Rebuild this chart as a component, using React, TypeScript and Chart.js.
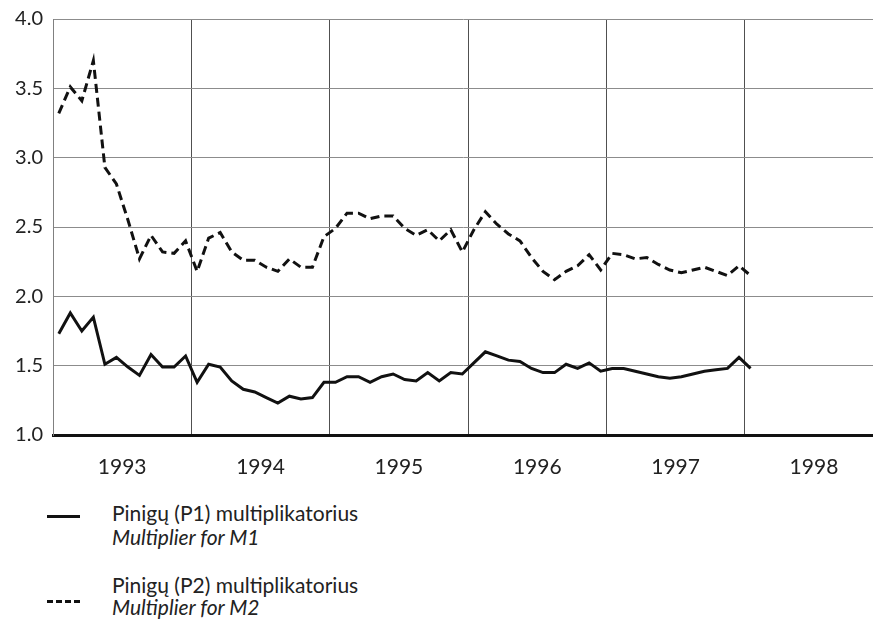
import React, { useEffect, useRef } from "react";
import { Chart, registerables } from "chart.js";

Chart.register(...registerables);

// Year labels on the x axis (each year = 12 monthly slots)
const YEARS = [1993, 1994, 1995, 1996, 1997, 1998];
// y-axis tick values
const Y_TICKS = [1.0, 1.5, 2.0, 2.5, 3.0, 3.5, 4.0];

// Monthly values, Jan 1993 .. Jan 1998
const M1 = [
  1.73, 1.88, 1.75, 1.85, 1.51, 1.56, 1.49, 1.43, 1.58, 1.49, 1.49, 1.57,
  1.38, 1.51, 1.49, 1.39, 1.33, 1.31, 1.27, 1.23, 1.28, 1.26, 1.27, 1.38,
  1.38, 1.42, 1.42, 1.38, 1.42, 1.44, 1.40, 1.39, 1.45, 1.39, 1.45, 1.44,
  1.52, 1.60, 1.57, 1.54, 1.53, 1.48, 1.45, 1.45, 1.51, 1.48, 1.52, 1.46,
  1.48, 1.48, 1.46, 1.44, 1.42, 1.41, 1.42, 1.44, 1.46, 1.47, 1.48, 1.56,
  1.48,
];
const M2 = [
  3.32, 3.51, 3.41, 3.70, 2.93, 2.81, 2.55, 2.27, 2.44, 2.32, 2.31, 2.40,
  2.18, 2.42, 2.46, 2.32, 2.26, 2.26, 2.21, 2.18, 2.27, 2.21, 2.21, 2.43,
  2.49, 2.60, 2.60, 2.56, 2.58, 2.58, 2.49, 2.44, 2.48, 2.40, 2.48, 2.32,
  2.48, 2.61, 2.52, 2.45, 2.40, 2.28, 2.18, 2.12, 2.18, 2.22, 2.30, 2.19,
  2.31, 2.30, 2.27, 2.28, 2.23, 2.19, 2.17, 2.19, 2.21, 2.18, 2.15, 2.22,
  2.15,
];

const LEGEND_M1 = ["Pinigų (P1) multiplikatorius", "Multiplier for M1"];
const LEGEND_M2 = ["Pinigų (P2) multiplikatorius", "Multiplier for M2"];

const FONT = "Lato, 'Open Sans', 'DejaVu Sans', sans-serif";

export default function App() {
  const ref = useRef<HTMLCanvasElement>(null);

  useEffect(() => {
    document.body.style.margin = "0";
    const toPts = (arr: number[]) => arr.map((v, i) => ({ x: i + 0.5, y: v }));
    const chart = new Chart(ref.current as HTMLCanvasElement, {
      type: "line",
      data: {
        datasets: [
          {
            label: LEGEND_M1[0],
            data: toPts(M1),
            borderColor: "#111",
            borderWidth: 3,
            pointRadius: 0,
            tension: 0,
            fill: false,
            borderJoinStyle: "miter",
          },
          {
            label: LEGEND_M2[0],
            data: toPts(M2),
            borderColor: "#111",
            borderWidth: 3,
            borderDash: [9, 5],
            pointRadius: 0,
            tension: 0,
            fill: false,
          },
        ],
      },
      options: {
        animation: false,
        responsive: false,
        layout: { padding: { top: 19, left: 0, right: 0, bottom: 0 } },
        plugins: { legend: { display: false }, tooltip: { enabled: false } },
        scales: {
          x: {
            type: "linear",
            min: 0,
            max: 71.12,
            afterBuildTicks: (s: any) => {
              const t: any[] = [];
              for (let v = 0; v <= 66; v += 6) t.push({ value: v });
              s.ticks = t;
            },
            afterFit: (s: any) => {
              s.height = 55;
              s.paddingLeft = 0;
              s.paddingRight = 0;
            },
            grid: {
              color: (c: any) =>
                c.tick && c.tick.value > 0 && c.tick.value % 12 === 0 ? "#505050" : "rgba(0,0,0,0)",
              lineWidth: 1,
              drawTicks: false,
            },
            border: { color: "#111", width: 3 },
            ticks: {
              autoSkip: false,
              maxRotation: 0,
              padding: 20,
              color: "#222",
              font: { family: FONT, size: 21 },
              callback: (v: any) => {
                const n = Number(v);
                return n % 12 === 6 ? String(YEARS[(n - 6) / 12]) : "";
              },
            },
          },
          y: {
            min: 1,
            max: 4,
            afterBuildTicks: (s: any) => {
              s.ticks = Y_TICKS.map((v) => ({ value: v }));
            },
            afterFit: (s: any) => {
              s.width = 53;
              s.paddingTop = 0;
              s.paddingBottom = 0;
            },
            grid: {
              color: (c: any) => (c.tick && c.tick.value === 1 ? "rgba(0,0,0,0)" : "#8c8c8c"),
              lineWidth: 1,
              drawTicks: false,
            },
            border: { color: "#808080", width: 1 },
            ticks: {
              padding: 10,
              color: "#222",
              font: { family: FONT, size: 20 },
              callback: (v: any) => Number(v).toFixed(1),
            },
          },
        },
      },
    });
    return () => chart.destroy();
  }, []);

  const textStyle: React.CSSProperties = {
    position: "absolute",
    left: 112,
    fontFamily: FONT,
    fontSize: 21,
    lineHeight: "24px",
    color: "#222",
    whiteSpace: "nowrap",
  };

  return (
    <div style={{ position: "relative", width: 873, height: 621, background: "#fff", overflow: "hidden" }}>
      <canvas ref={ref} width={873} height={490} style={{ display: "block" }} />
      <div style={{ position: "absolute", left: 47, top: 515, width: 33, height: 3, background: "#111" }} />
      <div style={{ ...textStyle, top: 501 }}>{LEGEND_M1[0]}</div>
      <div style={{ ...textStyle, top: 525, fontStyle: "italic" }}>{LEGEND_M1[1]}</div>
      <div
        style={{
          position: "absolute",
          left: 47,
          top: 600,
          width: 34,
          height: 3,
          background: "repeating-linear-gradient(to right, #111 0 6px, transparent 6px 9px)",
        }}
      />
      <div style={{ ...textStyle, top: 573 }}>{LEGEND_M2[0]}</div>
      <div style={{ ...textStyle, top: 595, fontStyle: "italic" }}>{LEGEND_M2[1]}</div>
    </div>
  );
}
